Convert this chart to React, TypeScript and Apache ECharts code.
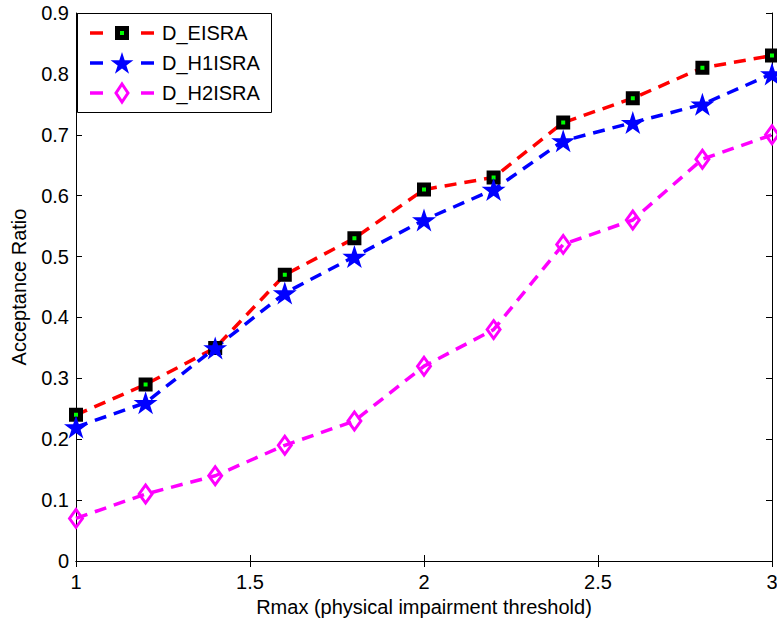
import React, { useEffect, useRef } from "react";
import * as echarts from "echarts";

const xValues = [1, 1.2, 1.4, 1.6, 1.8, 2, 2.2, 2.4, 2.6, 2.8, 3];
const seriesNames = ["D_EISRA", "D_H1ISRA", "D_H2ISRA"];
const eisra = [0.24, 0.29, 0.35, 0.47, 0.53, 0.61, 0.63, 0.72, 0.76, 0.81, 0.83];
const h1isra = [0.22, 0.26, 0.35, 0.44, 0.5, 0.56, 0.61, 0.69, 0.72, 0.75, 0.8];
const h2isra = [0.07, 0.11, 0.14, 0.19, 0.23, 0.32, 0.38, 0.52, 0.56, 0.66, 0.7];
const xAxisName = "Rmax (physical impairment threshold)";
const yAxisName = "Acceptance Ratio";

const FONT = "'Liberation Sans', Arial, sans-serif";
const STAR_PATH =
  "path://M100,0 L122.45,69.1 L195.1,69.1 L136.3,111.8 L158.8,180.9 L100,138.2 L41.2,180.9 L63.7,111.8 L4.9,69.1 L77.55,69.1 Z";

function starPoints(cx: number, cy: number, r: number): number[][] {
  const pts: number[][] = [];
  for (let k = 0; k < 10; k++) {
    const a = ((-90 + k * 36) * Math.PI) / 180;
    const rr = k % 2 === 0 ? r : r * 0.382;
    pts.push([cx + rr * Math.cos(a), cy + rr * Math.sin(a)]);
  }
  return pts;
}

export default function App() {
  const ref = useRef<HTMLDivElement>(null);
  useEffect(() => {
    if (!ref.current) return;
    const chart = echarts.init(ref.current, null, { renderer: "svg" });
    const pair = (ys: number[]) => xValues.map((x, i) => [x, ys[i]]);
    const dash = [12, 8];
    const axisCommon = {
      axisLine: { show: true, lineStyle: { color: "#000", width: 1 } },
      axisTick: { show: true, inside: true, length: 6, lineStyle: { color: "#000" } },
      splitLine: { show: false },
    };
    const legendX0 = 77;
    const legendY0 = 13;
    const rowY = (i: number) => 33 + 30 * i;
    const legendColors = ["#ff0000", "#0000ff", "#ff00ff"];
    const legendGraphics: any[] = [
      {
        type: "rect",
        shape: { x: legendX0 + 0.5, y: legendY0 + 0.5, width: 194, height: 99 },
        style: { fill: "#fff", stroke: "#000", lineWidth: 1 },
        z: 100,
      },
    ];
    seriesNames.forEach((name, i) => {
      const y = rowY(i);
      legendGraphics.push(
        { type: "line", shape: { x1: 90, y1: y, x2: 103, y2: y }, style: { stroke: legendColors[i], lineWidth: 3.5 }, z: 101 },
        { type: "line", shape: { x1: 141, y1: y, x2: 154, y2: y }, style: { stroke: legendColors[i], lineWidth: 3.5 }, z: 101 },
        {
          type: "text",
          x: 162,
          y: y,
          style: { text: name, font: `20px ${FONT}`, fill: "#000", verticalAlign: "middle", align: "left" },
          z: 101,
        }
      );
    });
    legendGraphics.push(
      { type: "rect", shape: { x: 122 - 4.5, y: rowY(0) - 4.5, width: 9, height: 9 }, style: { fill: "#00ff00", stroke: "#000", lineWidth: 5 }, z: 102 },
      { type: "polygon", shape: { points: starPoints(122, rowY(1) + 1, 12) }, style: { fill: "#0000ff" }, z: 102 },
      {
        type: "polygon",
        shape: { points: [[122, rowY(2) - 9], [128, rowY(2)], [122, rowY(2) + 9], [116, rowY(2)]] },
        style: { fill: "none", stroke: "#ff00ff", lineWidth: 3 },
        z: 102,
      }
    );

    chart.setOption({
      animation: false,
      backgroundColor: "#fff",
      grid: { left: 76, right: 5, top: 13, bottom: 61, containLabel: false, outerBoundsMode: "none" },
      xAxis: [
        {
          type: "value",
          min: 1,
          max: 3,
          interval: 0.5,
          name: xAxisName,
          nameLocation: "middle",
          nameGap: 30,
          nameTextStyle: { fontFamily: FONT, fontSize: 20, color: "#000" },
          axisLabel: { fontFamily: FONT, fontSize: 20, color: "#000", margin: 11 },
          ...axisCommon,
        },
        {
          type: "value",
          position: "top",
          min: 1,
          max: 3,
          interval: 0.5,
          axisLabel: { show: false },
          ...axisCommon,
        },
      ],
      yAxis: [
        {
          type: "value",
          min: 0,
          max: 0.9,
          interval: 0.1,
          name: yAxisName,
          nameLocation: "middle",
          nameGap: 47,
          nameTextStyle: { fontFamily: FONT, fontSize: 20, color: "#000" },
          axisLabel: { fontFamily: FONT, fontSize: 20, color: "#000", margin: 7 },
          ...axisCommon,
        },
        {
          type: "value",
          position: "right",
          min: 0,
          max: 0.9,
          interval: 0.1,
          axisLabel: { show: false },
          ...axisCommon,
        },
      ],
      series: [
        {
          name: seriesNames[0],
          type: "line",
          data: pair(eisra),
          clip: false,
          symbol: "rect",
          symbolSize: 9,
          itemStyle: { color: "#00ff00", borderColor: "#000", borderWidth: 5 },
          lineStyle: { color: "#ff0000", width: 3.5, type: dash },
        },
        {
          name: seriesNames[1],
          type: "line",
          data: pair(h1isra),
          clip: false,
          symbol: STAR_PATH,
          symbolSize: [24, 23],
          itemStyle: { color: "#0000ff" },
          lineStyle: { color: "#0000ff", width: 3.5, type: dash },
        },
        {
          name: seriesNames[2],
          type: "line",
          data: pair(h2isra),
          clip: false,
          symbol: "diamond",
          symbolSize: [13, 18],
          itemStyle: { color: "rgba(0,0,0,0)", borderColor: "#ff00ff", borderWidth: 3 },
          lineStyle: { color: "#ff00ff", width: 3.5, type: dash },
        },
      ],
      graphic: legendGraphics,
    });
    return () => chart.dispose();
  }, []);
  return (
    <div
      ref={ref}
      style={{ position: "fixed", left: 0, top: 0, width: 777, height: 622, background: "#fff" }}
    />
  );
}
